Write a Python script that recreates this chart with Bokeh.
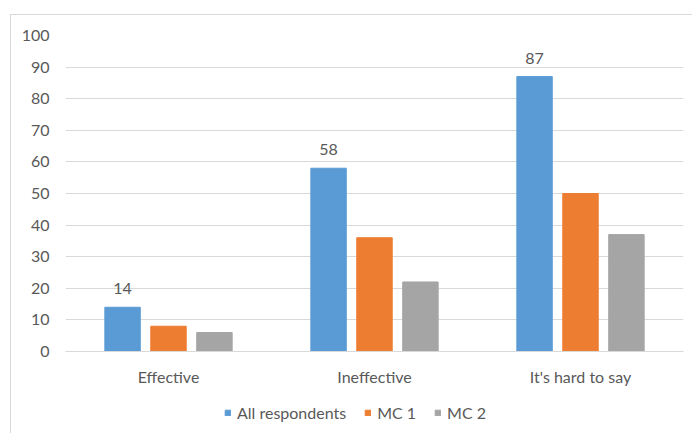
from bokeh.plotting import figure
from bokeh.models import ColumnDataSource, FactorRange, Range1d, Legend, LegendItem, FixedTicker, Column
from bokeh.transform import dodge
from bokeh.core.properties import value
from bokeh.embed import file_html
from bokeh.resources import INLINE

categories = ["Effective", "Ineffective", "It's hard to say"]
all_respondents = [14, 58, 87]
mc1 = [8, 36, 50]
mc2 = [6, 22, 37]
series_names = ["All respondents", "MC 1", "MC 2"]
y_ticks = [0, 10, 20, 30, 40, 50, 60, 70, 80, 90, 100]

colors = ["#5B9BD5", "#ED7D31", "#A5A5A5"]
FONT = "Lato"
TXT = "#595959"
FS = "16px"

src = ColumnDataSource(dict(cat=categories, a=all_respondents, b=mc1, c=mc2,
                            lab=[str(v) for v in all_respondents]))

p = figure(width=681, height=380, x_range=FactorRange(*categories, range_padding=0),
           y_range=Range1d(0, 100), output_backend="svg", toolbar_location=None,
           min_border_left=54, min_border_right=9, min_border_top=20, min_border_bottom=44)
p.outline_line_color = None
p.background_fill_color = "white"
p.border_fill_color = "white"

off = 0.223
w = 0.172
p.vbar(x=dodge("cat", -off, range=p.x_range), top="a", width=w, source=src, color=colors[0])
p.vbar(x=dodge("cat", 0, range=p.x_range), top="b", width=w, source=src, color=colors[1])
p.vbar(x=dodge("cat", off, range=p.x_range), top="c", width=w, source=src, color=colors[2])

p.text(x=dodge("cat", -off, range=p.x_range), y="a", text="lab", source=src,
       text_align="center", text_baseline="bottom", y_offset=-13,
       text_font=value(FONT), text_font_size=FS, text_color=TXT)

p.xgrid.grid_line_color = None
p.ygrid.grid_line_color = "#D9D9D9"
p.ygrid.grid_line_width = 1
p.yaxis.ticker = FixedTicker(ticks=y_ticks)

for ax in (p.xaxis[0], p.yaxis[0]):
    ax.major_tick_line_color = None
    ax.minor_tick_line_color = None
    ax.major_tick_out = 0
    ax.major_tick_in = 0
    ax.major_label_text_font = FONT
    ax.major_label_text_font_size = FS
    ax.major_label_text_color = TXT
p.yaxis.axis_line_color = None
p.yaxis.major_label_standoff = 16
p.xaxis.axis_line_color = "#D9D9D9"
p.xaxis.major_label_standoff = 15

# legend strip below the chart
lg = figure(width=681, height=38, x_range=Range1d(0, 1), y_range=Range1d(0, 1),
            output_backend="svg", toolbar_location=None,
            min_border=0, min_border_left=0, min_border_right=0, min_border_top=0, min_border_bottom=0)
lg.axis.visible = False
lg.grid.visible = False
lg.outline_line_color = None
lg.border_fill_color = "white"
hidden = ColumnDataSource(dict(x=[-10.0], t=[-10.0]))
g1 = lg.vbar(x="x", top="t", width=0.1, source=hidden, color=colors[0])
g2 = lg.vbar(x="x", top="t", width=0.1, source=hidden, color=colors[1])
g3 = lg.vbar(x="x", top="t", width=0.1, source=hidden, color=colors[2])

legend = Legend(items=[LegendItem(label=series_names[0], renderers=[g1]),
                       LegendItem(label=series_names[1], renderers=[g2]),
                       LegendItem(label=series_names[2], renderers=[g3])],
                orientation="horizontal", location=(159, 11),
                glyph_width=7, glyph_height=7, label_standoff=6, spacing=18,
                padding=2, margin=0, border_line_color=None, background_fill_alpha=0,
                label_text_font=FONT, label_text_font_size=FS, label_text_color=TXT)
lg.add_layout(legend, "center")

layout = Column(children=[p, lg], spacing=0)
layout.styles = {"margin-left": "10px", "margin-top": "14px",
                 "border-left": "1px solid #D9D9D9", "border-top": "1px solid #D9D9D9"}

open("out.html", "w").write(file_html(layout, INLINE))
